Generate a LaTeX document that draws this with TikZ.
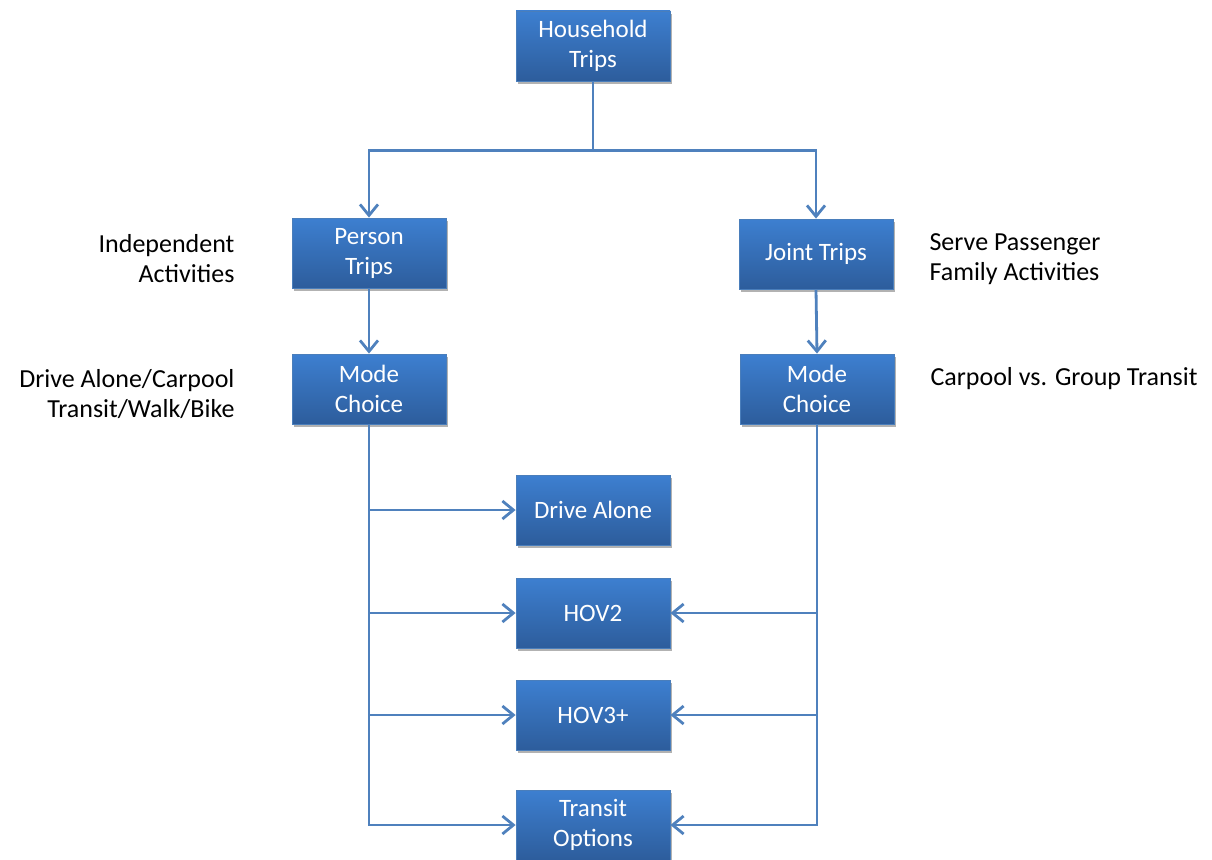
\documentclass[tikz,border=0pt]{standalone}
\usepackage{fontspec}
\setmainfont{Carlito}
\usetikzlibrary{arrows.meta,shadows}
\definecolor{boxtop}{HTML}{3D7FD0}
\definecolor{boxbot}{HTML}{2D5D9C}
\definecolor{boxborder}{HTML}{4A7EBB}
\definecolor{linec}{HTML}{4F81BD}
\begin{document}
\begin{tikzpicture}[x=1pt,y=-1pt,
  box/.style={draw=boxborder, line width=0.8pt, top color=boxtop, bottom color=boxbot,
    text=white, minimum width=154pt, minimum height=70pt, align=center,
    font=\fontsize{25}{30}\selectfont,
    drop shadow={shadow xshift=2pt, shadow yshift=-3pt, opacity=0.3, fill=black}},
  lbl/.style={font=\fontsize{26}{30}\selectfont, text=black},
  conn/.style={draw=linec, line width=2.8pt},
  arr/.style={conn, -{Straight Barb[length=11pt,width=18pt,line width=2.8pt]}}]
\useasboundingbox (0,0) rectangle (1212,859);
\node[box] (household) at (593,46) {Household\\Trips};
\node[box] (person) at (369,253) {Person\\Trips};
\node[box] (joint) at (816,254) {Joint Trips};
\node[box] (mcl) at (369,389) {Mode\\Choice};
\node[box] (mcr) at (817,389) {Mode\\Choice};
\node[box] (drive) at (593,510) {Drive Alone};
\node[box] (hov2) at (593,613) {HOV2};
\node[box] (hov3) at (593,715) {HOV3+};
\node[box] (transit) at (593,825) {Transit\\Options};

\node[lbl, anchor=east, align=right] (l1) at (238,259) {Independent\\Activities};
\node[lbl, anchor=west, align=left] (l2) at (926,259) {Serve Passenger\\Family Activities};
\node[lbl, anchor=east, align=right] (l3) at (238,394) {Drive Alone/Carpool\\Transit/Walk/Bike};
\node[lbl, anchor=west, align=left] (l4) at (927,379) {Carpool vs. Group Transit};

\draw[conn] (household.south) -- ++(0,69) coordinate (split);
\draw[arr] (split) -| (person.north);
\draw[arr] (split) -| (joint.north);
\draw[arr] (person.south) -- (mcl.north);
\draw[arr] (joint.south) -- (mcr.north);

\draw[arr] (mcl.south) |- (transit.west);
\draw[arr] (mcl.south |- drive.west) -- (drive.west);
\draw[arr] (mcl.south |- hov2.west) -- (hov2.west);
\draw[arr] (mcl.south |- hov3.west) -- (hov3.west);

\draw[arr] (mcr.south) |- (transit.east);
\draw[arr] (mcr.south |- hov2.east) -- (hov2.east);
\draw[arr] (mcr.south |- hov3.east) -- (hov3.east);
\end{tikzpicture}
\end{document}
